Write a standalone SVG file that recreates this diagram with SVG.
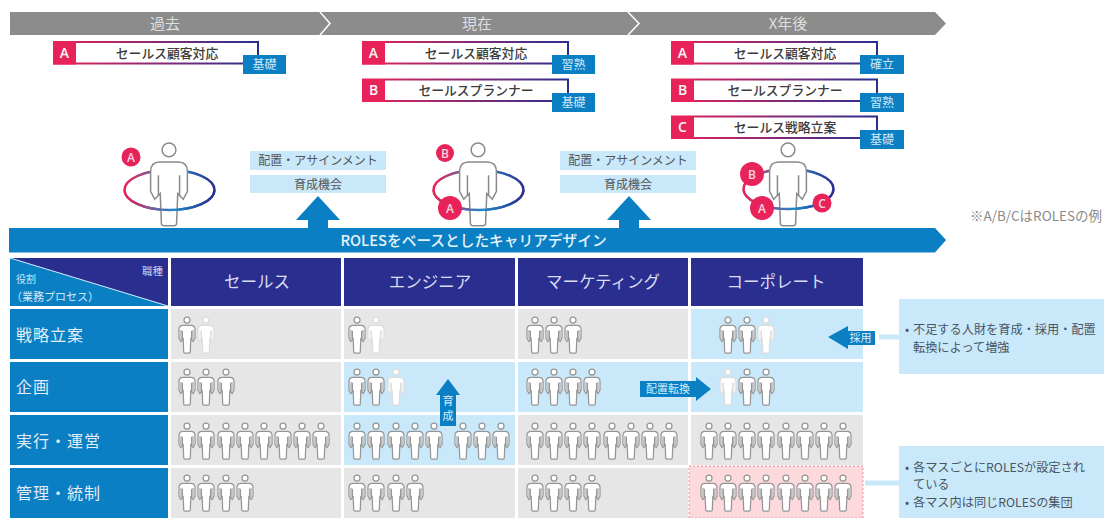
<svg xmlns="http://www.w3.org/2000/svg" xmlns:xlink="http://www.w3.org/1999/xlink" width="1105" height="518" viewBox="0 0 1105 518">
<style>
text{font-family:"Noto Sans CJK JP","Noto Sans",sans-serif;text-anchor:middle}
.ph{fill:#dfdfdf;font-size:15px}
.rl{fill:#3c3c3c;font-size:12.8px;font-weight:500}
.ro{fill:#fff;stroke:url(#rg);stroke-width:2}
.sq{fill:#e8235a}
.sqt{fill:#f7f7f7;font-size:14px;font-weight:600;font-family:"Open Sans",sans-serif}
.tag{fill:#0a7fc4}
.tagt{fill:#cfe8f7;font-size:12px}
.info{fill:#c9e9fb}
.it{fill:#555;font-size:12px}
.bl{fill:#0a7fc4}
.hd{fill:#2a2f8f}
.hdt{fill:#d9dcf3;font-size:16.5px}
.lt{fill:#e4ecf5;font-size:16px;text-anchor:start;letter-spacing:1px}
.g{fill:#e6e6e6}
.c{fill:#c9e9fb}
.ct{fill:#4a5560;font-size:12.2px;text-anchor:start}
.at{fill:#d9eefa;font-size:11px}
.ring{fill:none;stroke:url(#ring);stroke-width:2.4}
.b{fill:#e8235a}
.bt{fill:#f8d5df;font-size:12px;font-weight:600;font-family:"Open Sans",sans-serif}
use.s{fill:#fff;stroke:#969696;stroke-width:1.25;color:#c8c8c8}
use.f{fill:#fff;stroke:#dcdcdc;stroke-width:1.25;color:#f1f1f1}
use.L{fill:#fff;stroke:#8a8a8a;stroke-width:.65;color:#fff}
</style>
<defs>
<linearGradient id="rg" x1="0" y1="0" x2="1" y2="0"><stop offset="0" stop-color="#e8235a"/><stop offset="1" stop-color="#2a2f8f"/></linearGradient>
<linearGradient id="ring" x1="0" y1="0" x2="1" y2="0"><stop offset="0" stop-color="#e8235a"/><stop offset=".55" stop-color="#1f86c8"/><stop offset="1" stop-color="#2a2f8f"/></linearGradient>
<g id="p">
<circle cx="0" cy="3" r="3"/>
<path d="M-4,8.3H4Q8,8.3 8,12.500V21L6.200,24.500 3.800,22 3.300,35Q3.300,36 2,36H-2Q-3.300,36 -3.300,35L-3.800,22 -6.200,24.500 -8,21V12.500Q-8,8.300 -4,8.300Z"/>
<path fill="currentColor" stroke="none" d="M4.600,13H7.400V21L6,23.500 4.600,22ZM-4.600,13H-7.400V21L-6,23.500 -4.600,22Z"/>
<path fill="none" d="M4.600,14V23M-4.600,14V23"/>
</g>
</defs>
<rect width="1105" height="518" fill="#fff"/>

<g id="timeline">
<path fill="#8c8c8c" d="M10,12H935L946,23.500 935,35H10Z"/>
<path fill="none" stroke="#fff" stroke-width="1.500" d="M320,12L330,23.500 320,35M628,12L639,23.500 628,35"/>
<text class="ph" x="165" y="29">過去</text>
<text class="ph" x="477" y="29">現在</text>
<text class="ph" x="788" y="29">X年後</text>
</g>

<g id="role-past-a"><rect class="ro" x="54" y="42" width="204" height="21.500"/><rect class="sq" x="53" y="41.500" width="23" height="23"/><text class="sqt" x="64.500" y="58">A</text><text class="rl" x="167" y="58">セールス顧客対応</text><rect class="tag" x="243" y="55" width="43" height="19"/><text class="tagt" x="264.500" y="69">基礎</text></g>
<g id="role-now-a"><rect class="ro" x="363" y="42" width="205" height="21.500"/><rect class="sq" x="362" y="41.500" width="23" height="23"/><text class="sqt" x="373.500" y="58">A</text><text class="rl" x="476" y="58">セールス顧客対応</text><rect class="tag" x="552" y="55" width="43" height="19"/><text class="tagt" x="573.500" y="69">習熟</text></g>
<g id="role-now-b"><rect class="ro" x="363" y="79.500" width="205" height="21.500"/><rect class="sq" x="362" y="79" width="23" height="23"/><text class="sqt" x="373.500" y="95">B</text><text class="rl" x="476" y="95">セールスプランナー</text><rect class="tag" x="552" y="93" width="43" height="19"/><text class="tagt" x="573.500" y="107">基礎</text></g>
<g id="role-future-a"><rect class="ro" x="672" y="42" width="205" height="21.500"/><rect class="sq" x="671" y="41.500" width="23" height="23"/><text class="sqt" x="682.500" y="58">A</text><text class="rl" x="785" y="58">セールス顧客対応</text><rect class="tag" x="860" y="55" width="44" height="19"/><text class="tagt" x="882" y="69">確立</text></g>
<g id="role-future-b"><rect class="ro" x="672" y="79.500" width="205" height="21.500"/><rect class="sq" x="671" y="79" width="23" height="23"/><text class="sqt" x="682.500" y="95">B</text><text class="rl" x="785" y="95">セールスプランナー</text><rect class="tag" x="860" y="93" width="44" height="19"/><text class="tagt" x="882" y="107">習熟</text></g>
<g id="role-future-c"><rect class="ro" x="672" y="116.500" width="205" height="21.500"/><rect class="sq" x="671" y="116" width="23" height="23"/><text class="sqt" x="682.500" y="132">C</text><text class="rl" x="785" y="132">セールス戦略立案</text><rect class="tag" x="860" y="130" width="44" height="19"/><text class="tagt" x="882" y="144">基礎</text></g>

<g id="person-past">
<ellipse class="ring" cx="169.500" cy="190" rx="45" ry="20"/>
<use href="#p" class="L" transform="translate(169,143) scale(2.3)"/>
<path class="ring" d="M124.500,190A45,20 0 0 0 214.500,190"/>
<circle class="b" cx="131" cy="157" r="9.500"/><text class="bt" x="131" y="161.500">A</text>
</g>
<g id="person-now">
<ellipse class="ring" cx="478.500" cy="190" rx="45" ry="20"/>
<use href="#p" class="L" transform="translate(478,143) scale(2.3)"/>
<path class="ring" d="M433.500,190A45,20 0 0 0 523.500,190"/>
<circle class="b" cx="445" cy="153" r="9"/><text class="bt" x="445" y="157.500">B</text>
<circle class="b" cx="450" cy="208" r="12"/><text class="bt" x="450" y="212.500">A</text>
</g>
<g id="person-future">
<ellipse class="ring" cx="788.500" cy="189" rx="45" ry="20"/>
<use href="#p" class="L" transform="translate(788,143) scale(2.3)"/>
<path class="ring" d="M743.500,189A45,20 0 0 0 833.500,189"/>
<circle class="b" cx="752" cy="174" r="12"/><text class="bt" x="752" y="178.500">B</text>
<circle class="b" cx="762" cy="208" r="12"/><text class="bt" x="762" y="212.500">A</text>
<circle class="b" cx="822" cy="203" r="9.500"/><text class="bt" x="822" y="207.500">C</text>
</g>

<g id="info-1"><rect class="info" x="250" y="151" width="136" height="19"/><text class="it" x="318" y="165">配置・アサインメント</text><rect class="info" x="250" y="175" width="136" height="18"/><text class="it" x="318" y="189">育成機会</text></g>
<g id="info-2"><rect class="info" x="560" y="151" width="136" height="19"/><text class="it" x="628" y="165">配置・アサインメント</text><rect class="info" x="560" y="175" width="136" height="18"/><text class="it" x="628" y="189">育成機会</text></g>

<text x="1036" y="221" fill="#8a8a8a" font-size="13.500">※A/B/CはROLESの例</text>

<g id="career-bar">
<path class="bl" d="M9,228H935L946,240 935,252.500H9Z"/>
<text x="473.500" y="246" fill="#e6f3fb" font-size="14.700" font-weight="500">ROLESをベースとしたキャリアデザイン</text>
</g>

<g id="table-cells">
<rect class="g" x="171" y="309" width="170" height="50"/><rect class="g" x="344" y="309" width="171" height="50"/><rect class="g" x="518" y="309" width="170" height="50"/><rect class="c" x="691" y="309" width="172" height="50"/>
<rect class="g" x="171" y="362" width="170" height="50"/><rect class="c" x="344" y="362" width="171" height="50"/><rect class="c" x="518" y="362" width="170" height="50"/><rect class="c" x="691" y="362" width="172" height="50"/>
<rect class="g" x="171" y="415" width="170" height="50"/><rect class="c" x="344" y="415" width="171" height="50"/><rect class="g" x="518" y="415" width="170" height="50"/><rect class="g" x="691" y="415" width="172" height="50"/>
<rect class="g" x="171" y="468" width="170" height="50"/><rect class="g" x="344" y="468" width="171" height="50"/><rect class="g" x="518" y="468" width="170" height="50"/>
<rect x="689" y="466" width="174" height="52" fill="#fbd9dc" stroke="#ee8fa3" stroke-width="1" stroke-dasharray="2 2"/>
</g>

<g id="table-head">
<path class="hd" d="M10,258H168V306Z"/>
<path class="bl" d="M10,258L168,306V306H10Z"/>
<path stroke="#c9e9fb" stroke-width="1" fill="none" d="M10,258L168,306"/>
<text x="163" y="275" fill="#c9cdea" font-size="10.500" style="text-anchor:end">職種</text>
<text x="16" y="283" fill="#cfe8f7" font-size="10" style="text-anchor:start">役割</text>
<text x="11" y="301" fill="#cfe8f7" font-size="11" style="text-anchor:start">（業務プロセス）</text>
<rect class="hd" x="171" y="258" width="170" height="48"/><text class="hdt" x="257" y="288">セールス</text>
<rect class="hd" x="344" y="258" width="171" height="48"/><text class="hdt" x="430" y="288">エンジニア</text>
<rect class="hd" x="518" y="258" width="170" height="48"/><text class="hdt" x="603" y="288">マーケティング</text>
<rect class="hd" x="691" y="258" width="172" height="48"/><text class="hdt" x="776" y="288">コーポレート</text>
</g>
<g id="row-heads">
<rect class="bl" x="10" y="309" width="158" height="50"/><text class="lt" x="16" y="341">戦略立案</text>
<rect class="bl" x="10" y="362" width="158" height="50"/><text class="lt" x="16" y="393">企画</text>
<rect class="bl" x="10" y="415" width="158" height="50"/><text class="lt" x="16" y="447">実行・運営</text>
<rect class="bl" x="10" y="468" width="158" height="50"/><text class="lt" x="16" y="499">管理・統制</text>
</g>

<g id="people">
<use href="#p" class="s" x="187" y="317"/><use href="#p" class="f" x="206" y="317"/>
<use href="#p" class="s" x="357" y="317"/><use href="#p" class="f" x="376" y="317"/>
<use href="#p" class="s" x="535" y="317"/><use href="#p" class="s" x="554" y="317"/><use href="#p" class="s" x="573" y="317"/>
<use href="#p" class="s" x="728" y="317"/><use href="#p" class="s" x="747" y="317"/><use href="#p" class="f" x="766" y="317"/>

<use href="#p" class="s" x="187" y="369"/><use href="#p" class="s" x="206" y="369"/><use href="#p" class="s" x="226" y="369"/>
<use href="#p" class="s" x="357" y="369"/><use href="#p" class="s" x="376" y="369"/><use href="#p" class="f" x="396" y="369"/>
<use href="#p" class="s" x="535" y="369"/><use href="#p" class="s" x="554" y="369"/><use href="#p" class="s" x="573" y="369"/><use href="#p" class="s" x="592" y="369"/>
<use href="#p" class="f" x="728" y="369"/><use href="#p" class="s" x="747" y="369"/><use href="#p" class="s" x="766" y="369"/>

<use href="#p" class="s" x="187" y="423"/><use href="#p" class="s" x="206" y="423"/><use href="#p" class="s" x="226" y="423"/><use href="#p" class="s" x="245" y="423"/><use href="#p" class="s" x="264" y="423"/><use href="#p" class="s" x="283" y="423"/><use href="#p" class="s" x="302" y="423"/><use href="#p" class="s" x="321" y="423"/>
<use href="#p" class="s" x="357" y="423"/><use href="#p" class="s" x="376" y="423"/><use href="#p" class="s" x="396" y="423"/><use href="#p" class="s" x="415" y="423"/><use href="#p" class="s" x="434" y="423"/><use href="#p" class="s" x="463" y="423"/><use href="#p" class="s" x="482" y="423"/><use href="#p" class="s" x="501" y="423"/>
<use href="#p" class="s" x="535" y="423"/><use href="#p" class="s" x="554" y="423"/><use href="#p" class="s" x="573" y="423"/><use href="#p" class="s" x="592" y="423"/><use href="#p" class="s" x="612" y="423"/><use href="#p" class="s" x="631" y="423"/><use href="#p" class="s" x="650" y="423"/><use href="#p" class="s" x="669" y="423"/>
<use href="#p" class="s" x="709" y="423"/><use href="#p" class="s" x="728" y="423"/><use href="#p" class="s" x="747" y="423"/><use href="#p" class="s" x="766" y="423"/><use href="#p" class="s" x="786" y="423"/><use href="#p" class="s" x="805" y="423"/><use href="#p" class="s" x="824" y="423"/><use href="#p" class="s" x="843" y="423"/>

<use href="#p" class="s" x="187" y="475"/><use href="#p" class="s" x="206" y="475"/><use href="#p" class="s" x="226" y="475"/><use href="#p" class="s" x="245" y="475"/>
<use href="#p" class="s" x="357" y="475"/><use href="#p" class="s" x="376" y="475"/><use href="#p" class="s" x="396" y="475"/><use href="#p" class="s" x="415" y="475"/>
<use href="#p" class="s" x="535" y="475"/><use href="#p" class="s" x="554" y="475"/><use href="#p" class="s" x="573" y="475"/><use href="#p" class="s" x="592" y="475"/>
<use href="#p" class="s" x="709" y="475"/><use href="#p" class="s" x="728" y="475"/><use href="#p" class="s" x="747" y="475"/><use href="#p" class="s" x="766" y="475"/><use href="#p" class="s" x="786" y="475"/><use href="#p" class="s" x="805" y="475"/><use href="#p" class="s" x="824" y="475"/><use href="#p" class="s" x="843" y="475"/>
</g>

<g id="callout-1"><rect class="info" x="899" y="299" width="205" height="75"/><text class="ct" x="905" y="334">•<tspan x="913">不足する人財を育成・採用・配置</tspan></text><text class="ct" x="913" y="352">転換によって増強</text></g>
<g id="callout-2"><rect class="info" x="899" y="446" width="205" height="72"/><text class="ct" x="905" y="472">•<tspan x="913">各マスごとにROLESが設定され</tspan></text><text class="ct" x="913" y="489">ている</text><text class="ct" x="905" y="507">•<tspan x="913">各マス内は同じROLESの集団</tspan></text></g>

<g id="connectors">
<path class="bl" d="M318,196L340,220H328V228H308V220H296Z"/>
<path class="bl" d="M629,196L651,220H639V228H619V220H607Z"/>
<path class="bl" d="M448,379L460,395H456V426H440V395H436Z"/>
<text class="at" x="448" y="405">育</text><text class="at" x="448" y="420">成</text>
<path class="bl" d="M640,381H696V377L711,389 696,401V397H640Z"/>
<text class="at" x="668" y="393">配置転換</text>
<path class="bl" d="M828,337L848,326V331H875V345H848V349Z"/>
<text class="at" x="860.500" y="342">採用</text>
<path stroke="#c9e9fb" stroke-width="5" fill="none" d="M879,337H899M865,483H899"/>
</g>
</svg>
